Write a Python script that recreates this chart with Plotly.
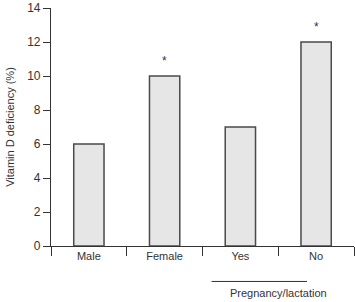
import plotly.graph_objects as go

categories = ["Male", "Female", "Yes", "No"]
values = [6, 10, 7, 12]
markers = ["", "*", "", "*"]
y_ticks = [0, 2, 4, 6, 8, 10, 12, 14]
y_title = "Vitamin D deficiency (%)"
group_label = "Pregnancy/lactation"

FONT = "Liberation Sans, Arial, sans-serif"

fig = go.Figure()
fig.add_trace(go.Bar(
    x=categories, y=values,
    marker=dict(color="#e6e6e6", line=dict(color="#4a4a4a", width=1.5)),
    width=0.4,
))

for c, v, m in zip(categories, values, markers):
    if m:
        fig.add_annotation(x=c, y=v, text=m, showarrow=False, yshift=15,
                           font=dict(family=FONT, size=12, color="#333"))

fig.add_shape(type="line", xref="x", yref="paper", x0=1.62, x1=2.88, y0=-0.149, y1=-0.149,
              line=dict(color="#333", width=1))
fig.add_annotation(xref="x", yref="paper", x=2.5, y=-0.196, text=group_label, showarrow=False,
                   yanchor="middle", font=dict(family=FONT, size=11, color="#333"))

fig.update_layout(
    width=355, height=302,
    margin=dict(l=51, r=1, t=4, b=56),
    paper_bgcolor="white", plot_bgcolor="white",
    showlegend=False,
    font=dict(family=FONT, size=11, color="#333"),
    xaxis=dict(
        type="category", range=[-0.5, 3.5], tickson="boundaries",
        ticks="outside", ticklen=9, tickcolor="#333", tickwidth=1.2,
        showline=True, linecolor="#333", linewidth=1.2,
        showgrid=False, zeroline=False,
        tickfont=dict(family=FONT, size=11, color="#333"),
    ),
    yaxis=dict(
        range=[0, 14], tickvals=y_ticks,
        ticks="outside", ticklen=7, tickcolor="#333", tickwidth=1.2,
        showline=True, linecolor="#333", linewidth=1.2,
        showgrid=False, zeroline=False, ticklabeloverflow="allow",
        title=dict(text=y_title, font=dict(family=FONT, size=11, color="#333"), standoff=10),
        tickfont=dict(family=FONT, size=12, color="#333"),
    ),
)

fig.write_html("out.html", config={"displayModeBar": False},
               post_script="document.body.style.margin='0';")
